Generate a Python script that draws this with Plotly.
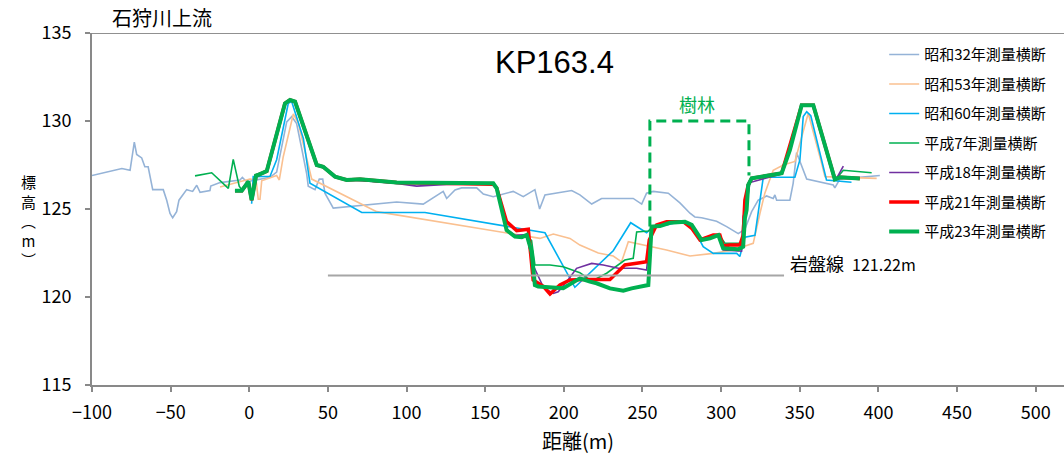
import plotly.graph_objects as go

# ---------------- data ----------------
s32_x = [-100, -81, -75.8, -73.1, -71.6, -68.4, -66.4, -64.3, -61.4, -54.7, -52.5, -50.4, -48.7, -46.2, -44.7,
         -39.8, -36, -33.4, -31.3, -25, -24.5, -18.6, -5.9, -4.4, -1.7, 13.2, 17.4, 23.8, 27, 30.1, 33.3, 36.5,
         37.5, 41.8, 44.5, 46.7, 48.1, 53.4, 93.7, 110.6, 123.3, 125.5, 130.8, 135, 144.6, 148.8, 155.1, 167.8,
         174.2, 181.6, 184.6, 188, 205, 210.2, 217.7, 224, 244.1, 249.5, 252.6, 256.8, 266.4, 273.8, 280.2,
         283.3, 287.6, 297.1, 303.5, 310.9, 315.1, 319.4, 323.6, 328.9, 333.1, 334.2, 335.3, 343.7, 345.8, 348,
         354.4, 371.3, 372.3, 375.5, 400.9]
s32_y = [126.9, 127.3, 127.2, 128.8, 128.1, 127.9, 127.4, 127.4, 126.1, 126.1, 125.5, 124.75, 124.5, 124.85, 125.5,
         126.1, 126.0, 126.35, 125.95, 126.05, 126.3, 126.5, 126.65, 126.8, 126.55, 126.8, 127.1, 129.95, 130.25,
         129.85, 128.45, 127.0, 126.3, 126.1, 126.7, 126.7, 125.9, 125.05, 125.4, 125.28, 126.0, 125.6, 126.08,
         126.2, 126.2, 125.85, 125.7, 126.0, 125.7, 126.1, 125.0, 125.8, 126.05, 125.8, 125.28, 125.6, 125.6,
         125.28, 125.9, 126.0, 125.9, 125.35, 124.76, 124.55, 124.5, 124.3, 124.0, 123.6, 123.85, 124.85, 125.5,
         125.74, 125.6, 125.8, 125.5, 125.5, 126.46, 128.2, 126.7, 126.36, 126.2, 126.7, 126.9]

s53_x = [-18.6, 0.4, 4.3, 5.7, 6.8, 7.9, 17.4, 19.1, 21.6, 28, 31.2, 38.6, 39.7, 81, 184.8, 193.3, 203.9, 210.2,
         221.9, 231.4, 236.7, 241, 248.4, 265.3, 280.2, 295, 307.7, 320.4, 324.7, 327.8, 333.1, 339.5, 346.9,
         355.4, 363.9, 366, 398.9]
s53_y = [126.25, 126.7, 126.65, 125.55, 125.55, 126.6, 126.9, 126.65, 127.97, 130.4, 129.87, 127.2, 126.7, 124.85,
         123.33, 123.58, 123.33, 122.95, 122.5, 122.33, 122.0, 123.14, 123.0, 122.67, 122.33, 122.48, 122.67,
         123.05, 124.76, 125.9, 127.2, 127.5, 127.7, 130.44, 127.6, 126.84, 126.74]

s60_x = [1.5, 2.5, 13.2, 17.4, 24.8, 27, 34.4, 38.6, 71.5, 111.7, 188, 202.8, 207, 231.4, 242.5, 252.6, 256.8,
         265.3, 273.8, 281.3, 288.6, 295, 309.9, 311.9, 315.1, 321.5, 326.8, 346.9, 350.1, 352.2, 354.4, 357,
         363.9, 367, 382.9]
s60_y = [125.3, 126.84, 126.86, 127.8, 131.0, 131.1, 129.0, 126.46, 124.8, 124.8, 123.65, 121.2, 120.55, 122.63,
         124.22, 123.65, 124.0, 124.1, 124.28, 124.1, 122.86, 122.48, 122.48, 122.3, 123.4, 123.5, 126.8, 126.8,
         127.8, 130.25, 130.53, 130.3, 127.78, 126.65, 126.52]

h7_x = [-34.5, -23.9, -13.3, -10.2, -6.4, -4.8, -0.6, 1.5, 3.6, 11.1, 22.7, 25.9, 29.1, 42.9, 46, 53.4, 61.9,
        93.7, 125.5, 155.1, 157.3, 163.6, 168.9, 173.2, 176.4, 179.5, 181.6, 191.2, 199.6, 210.2, 217.7, 227.2,
        238.8, 244.1, 246.3, 253.7, 256.8, 265.3, 276, 281.3, 286.5, 299.2, 302.4, 311.9, 314, 315.5, 317.2,
        319.4, 338.5, 351.2, 358.6, 372.3, 373.4, 377.7, 395.7]
h7_y = [126.88, 127.06, 126.17, 127.82, 126.3, 126.1, 126.6, 125.6, 126.95, 127.15, 130.95, 131.15, 131.05, 127.5,
        127.4, 126.9, 126.68, 126.48, 126.44, 126.44, 126.15, 123.8, 123.43, 123.4, 123.5, 123.2, 121.82, 121.82,
        121.72, 121.38, 120.9, 121.35, 122.1, 122.2, 123.7, 123.75, 124.0, 124.2, 124.28, 124.0, 123.33, 123.47,
        123.05, 123.05, 123.3, 124.5, 126.3, 126.7, 127.0, 130.9, 130.9, 126.7, 126.74, 127.2, 127.06]

h18_x = [-9.1, -4.8, -0.6, 1.5, 4.3, 11.1, 22.7, 25.9, 29.1, 42.9, 47, 54.5, 61.9, 70.4, 93.7, 106.4, 125.5,
         155.1, 157.3, 163.6, 168.9, 176.4, 180.5, 187, 193.3, 196.4, 201.8, 208.1, 217.7, 225.1, 234.6, 246.3,
         252.6, 255.2, 259, 265.3, 275.9, 281.3, 286.5, 295, 299.2, 301.3, 313, 314, 316.2, 318.3, 338.5, 351.2,
         358.6, 372.3, 373.4, 377.7]
h18_y = [126.04, 126.04, 126.55, 125.5, 126.88, 127.15, 131.0, 131.2, 131.1, 127.5, 127.4, 126.84, 126.62, 126.62,
         126.45, 126.3, 126.4, 126.44, 126.15, 123.85, 123.5, 123.55, 121.8, 120.55, 120.2, 120.3, 120.87, 121.63,
         121.91, 121.82, 121.63, 121.63, 121.53, 123.8, 124.1, 124.28, 124.28, 123.9, 123.24, 123.52, 123.52,
         122.67, 122.6, 124.56, 125.23, 126.5, 127.0, 130.9, 130.9, 126.7, 126.74, 127.44]

h21_x = [-9.1, -4.8, -0.6, 1.5, 4.3, 11.1, 22.7, 25.9, 29.1, 42.9, 47, 54.5, 61.9, 70.4, 93.7, 125.5, 155.1,
         157.3, 163.6, 170, 177.4, 180.5, 186.9, 191.2, 197.5, 203.9, 212.3, 229.3, 235.7, 238.8, 248.4, 252.6,
         254.3, 256.8, 259, 265.3, 275.9, 281.3, 286.5, 295, 299.2, 301.3, 305.6, 311.9, 314, 315.1, 317.2, 319.4,
         338.5, 351.2, 358.6, 372.3, 375.5, 388.2]
h21_y = [126.04, 126.04, 126.55, 125.5, 126.88, 127.15, 131.0, 131.2, 131.1, 127.5, 127.4, 126.84, 126.65, 126.69,
         126.5, 126.46, 126.4, 126.2, 124.28, 123.77, 123.85, 120.97, 120.6, 120.17, 120.68, 120.97, 121.0, 121.0,
         121.53, 121.82, 121.95, 122.0, 123.24, 123.71, 124.1, 124.28, 124.28, 123.9, 123.24, 123.52, 123.52,
         122.9, 122.95, 122.95, 123.5, 125.5, 126.36, 126.74, 127.03, 130.9, 130.9, 126.69, 126.8, 126.74]

h23_x = [-9.1, -4.8, -0.6, 1.5, 4.3, 11.1, 22.7, 25.9, 29.1, 42.9, 47, 54.5, 61.9, 70.4, 93.7, 125.5, 155.1,
         157.3, 163.6, 168.9, 173.2, 176.4, 179.5, 181.6, 183.7, 199.6, 210.2, 216.6, 220.8, 229.3, 237.8, 243.1,
         250.5, 253.7, 255.8, 259, 261.1, 267.5, 277, 281.3, 287.6, 292.9, 298.2, 301.3, 310.9, 314, 315.1, 316.2,
         317.2, 319.4, 338.5, 343.7, 351.2, 358.6, 372.3, 375.5, 388.2]
h23_y = [126.04, 126.04, 126.55, 125.5, 126.88, 127.15, 131.0, 131.2, 131.1, 127.5, 127.4, 126.84, 126.65, 126.69,
         126.5, 126.46, 126.46, 126.17, 123.8, 123.43, 123.4, 123.52, 122.57, 120.68, 120.6, 120.5, 121.06, 120.87,
         120.78, 120.49, 120.36, 120.49, 120.6, 120.68, 124.0, 124.05, 124.03, 124.22, 124.28, 124.1, 123.24,
         123.33, 123.52, 122.77, 122.71, 122.86, 124.47, 124.94, 126.36, 126.74, 127.03, 128.35, 130.9, 130.9,
         126.69, 126.8, 126.74]

series_names = ["昭和32年測量横断", "昭和53年測量横断", "昭和60年測量横断", "平成7年測量横断",
                "平成18年測量横断", "平成21年測量横断", "平成23年測量横断"]
series_x = [s32_x, s53_x, s60_x, h7_x, h18_x, h21_x, h23_x]
series_y = [s32_y, s53_y, s60_y, h7_y, h18_y, h21_y, h23_y]
series_colors = ["#95B3D7", "#FAC090", "#00B0F0", "#00B050", "#7030A0", "#FF0000", "#00B050"]
series_widths = [1.6, 1.6, 1.6, 1.6, 1.6, 3.5, 4]

bedrock_level = 121.22
bedrock_x = [50, 340]
forest_x = [254.7, 317.7]
forest_top = 130.0
forest_bottom = [124.0, 126.9]

x_ticks = [-100, -50, 0, 50, 100, 150, 200, 250, 300, 350, 400, 450, 500]
y_ticks = [115, 120, 125, 130, 135]
y_title_chars = ["標", "高", "\ufe35", "m", "\ufe36"]

FONT = "Noto Sans CJK JP"

fig = go.Figure()
for i, name in enumerate(series_names):
    fig.add_trace(go.Scatter(
        x=series_x[i], y=series_y[i], mode="lines", name=name,
        legendgroup=name,
        line=dict(color=series_colors[i], width=series_widths[i]),
    ))

# bedrock line
fig.add_trace(go.Scatter(x=bedrock_x, y=[bedrock_level, bedrock_level], mode="lines",
                         line=dict(color="#A6A6A6", width=2), showlegend=False, hoverinfo="skip"))

# forest dashed bracket
fig.add_trace(go.Scatter(
    x=[forest_x[0], forest_x[0], forest_x[1], forest_x[1]],
    y=[forest_bottom[0], forest_top, forest_top, forest_bottom[1]],
    mode="lines", line=dict(color="#00B050", width=3, dash="10px,6px"),
    showlegend=False, hoverinfo="skip"))

fig.update_layout(
    width=1064, height=462,
    margin=dict(l=92, r=0, t=33, b=77, autoexpand=False),
    paper_bgcolor="white", plot_bgcolor="white",
    font=dict(family=FONT, color="#000000", size=16),
    showlegend=True,
    legend=dict(x=0.815, xanchor="left", y=0.985, yanchor="top",
                font=dict(size=15, family=FONT, color="#000000"),
                tracegroupgap=7, bgcolor="rgba(0,0,0,0)", itemwidth=30),
    xaxis=dict(range=[-100, 518], tickvals=x_ticks, ticktext=[f"{v}".replace("-", "\u2212") for v in x_ticks],
               showgrid=False, zeroline=False,
               showline=True, linecolor="#898989", linewidth=2,
               ticks="outside", ticklen=5, tickcolor="#898989", tickwidth=1.5,
               tickfont=dict(size=18, family=FONT), ticklabelstandoff=5,
               title=dict(text="距離(m)", font=dict(size=20, family=FONT), standoff=12)),
    yaxis=dict(range=[115, 135], tickvals=y_ticks, showgrid=False, zeroline=False,
               showline=True, linecolor="#898989", linewidth=2,
               ticks="outside", ticklen=5, tickcolor="#898989", tickwidth=1.5,
               tickfont=dict(size=18, family=FONT), ticklabelstandoff=10),
)

# top border
fig.add_shape(type="line", xref="paper", yref="y", x0=0, x1=1, y0=135, y1=135,
              line=dict(color="#222222", width=1.2))

fig.add_annotation(text="石狩川上流", xref="paper", yref="paper", x=0.0725, y=1.045,
                   xanchor="center", yanchor="middle", showarrow=False,
                   font=dict(size=20, family=FONT, color="#000000"))
fig.add_annotation(text="KP163.4", xref="x", yref="y", x=194.3, y=133.35,
                   xanchor="center", yanchor="middle", showarrow=False,
                   font=dict(size=31, family="Liberation Sans", color="#000000"))
fig.add_annotation(text="樹林", xref="x", yref="y", x=284.6, y=130.97,
                   xanchor="center", yanchor="middle", showarrow=False,
                   font=dict(size=18, family=FONT, color="#00B050"))
fig.add_annotation(text="岩盤線&nbsp;&nbsp;<span style='font-size:16px'>121.22m</span>", xref="x", yref="y",
                   x=342.3, y=121.93, xanchor="left", yanchor="middle", showarrow=False,
                   font=dict(size=18, family=FONT, color="#000000"))

# stacked vertical y-axis title
fig.add_annotation(text="<br>".join(y_title_chars), xref="paper", yref="paper",
                   x=(28 - 92) / 972, y=(385 - 220) / 352,
                   xanchor="center", yanchor="middle", showarrow=False, align="center",
                   font=dict(size=15, family=FONT, color="#000000"))

fig.write_html("out.html", config={"displayModeBar": False},
               post_script="document.body.style.margin='0';document.body.style.padding='0';")
